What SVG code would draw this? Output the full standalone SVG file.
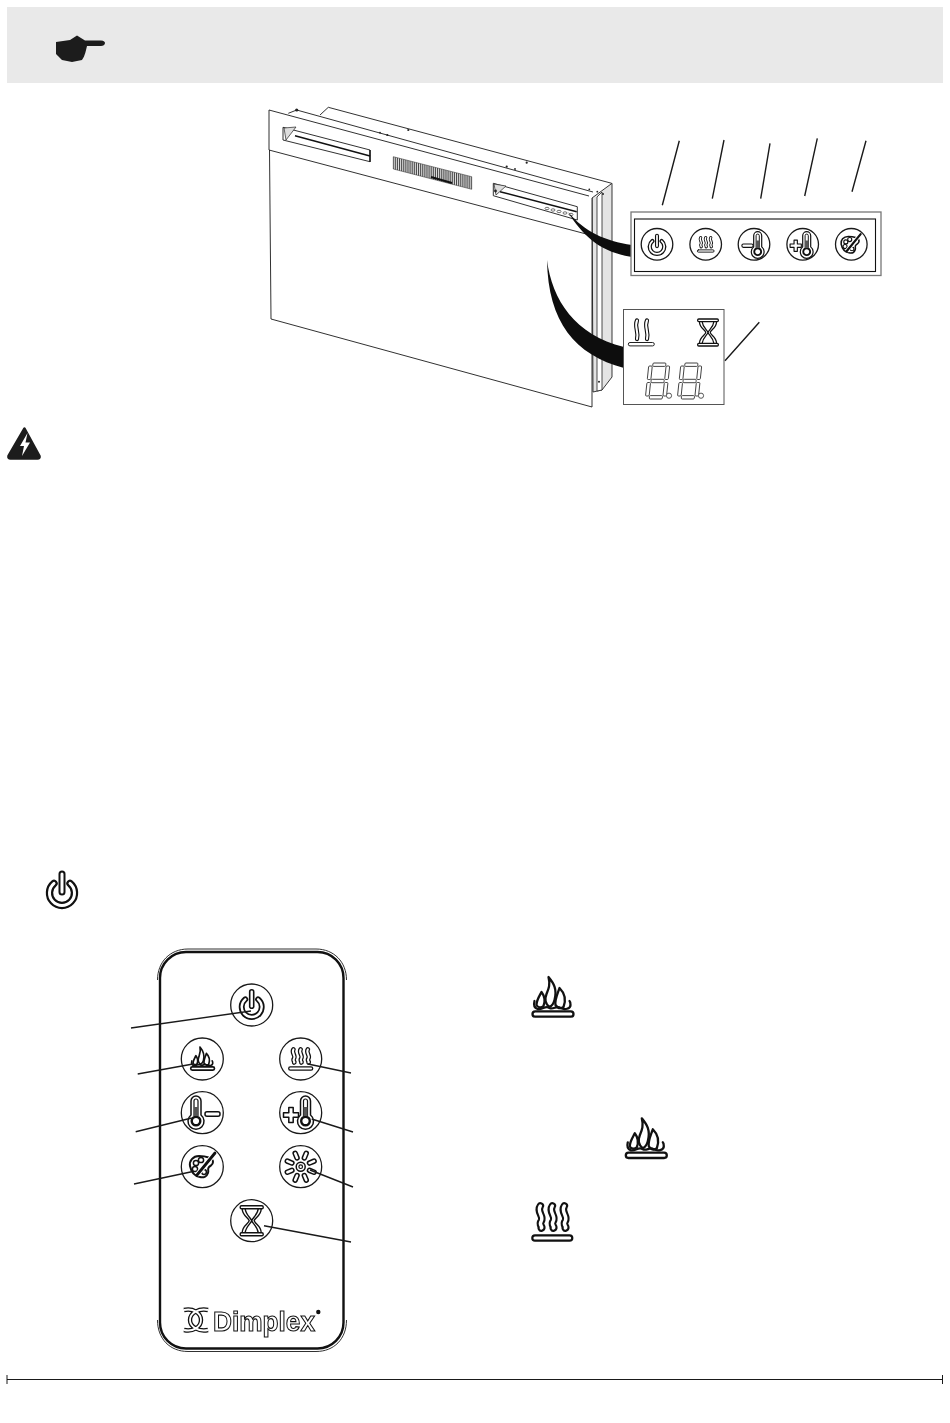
<svg xmlns="http://www.w3.org/2000/svg" width="950" height="1423" viewBox="0 0 950 1423">
<style>
.l{fill:none;stroke:#1a1a1a;stroke-width:.9}
.c{fill:none;stroke:#1a1a1a;stroke-width:1.4}
.btn{fill:#fff;stroke:#1a1a1a;stroke-width:1.3}
.i{fill:none;stroke:#111;stroke-linejoin:round;stroke-linecap:round}
.b{fill:none;stroke:#111;stroke-linecap:round}
.w{fill:none;stroke:#fff;stroke-linecap:round}
.seg{fill:#fff;stroke:#333;stroke-width:.9}
</style>
<defs>
<filter id="gray" x="-5%" y="-20%" width="110%" height="140%" color-interpolation-filters="sRGB"><feColorMatrix type="saturate" values="0"/></filter>
<g id="flame" class="i">
<rect x="-20" y="-2.700" width="41" height="5.400" rx="2.700"/>
<path d="M-4,-37C1,-31 5,-25 2,-14C1,-10 -1,-8 -3,-7C-7,-10 -8,-15 -6,-20C-4,-25 -2,-29 -4,-37Z"/>
<path d="M7,-26C12,-21 14,-15 11,-7C8,-5 5,-6 3,-9C2,-14 5,-20 7,-26Z"/>
<path d="M-11,-22C-8,-18 -7,-13 -9,-8C-11,-6 -15,-6 -16,-9C-16,-14 -13,-18 -11,-22Z"/>
<path d="M-18,-13C-19,-9 -18,-6 -15,-5C-10,-4 -7,-9 -3,-6C1,-4 4,-9 8,-6C12,-4 18,-5 18,-9C18,-11 18,-12 17,-13"/>
</g>
<g id="heat">
<rect x="-20" y="-2.700" width="40" height="5.400" rx="2.700" class="i" stroke-width="2.200"/>
<g class="b" stroke-width="7.600"><path d="M-12,-32C-16,-26 -8,-22 -11,-17C-14,-13 -9,-11 -11,-10"/><path d="M0,-32C-4,-26 4,-22 1,-17C-2,-13 3,-11 1,-10"/><path d="M12,-32C8,-26 16,-22 13,-17C10,-13 15,-11 13,-10"/></g>
<g class="w" stroke-width="3.400"><path d="M-12,-32C-16,-26 -8,-22 -11,-17C-14,-13 -9,-11 -11,-10"/><path d="M0,-32C-4,-26 4,-22 1,-17C-2,-13 3,-11 1,-10"/><path d="M12,-32C8,-26 16,-22 13,-17C10,-13 15,-11 13,-10"/></g>
</g>
<g id="power">
<path class="b" stroke-width="7.400" d="M-8,-9.600A12.500,12.500 0 1 0 8,-9.600"/>
<path class="w" stroke-width="3" d="M-8,-9.600A12.500,12.500 0 1 0 8,-9.600"/>
<path class="b" stroke-width="7" d="M0,-19V-1"/>
<path class="w" stroke-width="3" d="M0,-19V-1"/>
</g>
<g id="thermo">
<path d="M-5,-6V-20A5,5 0 0 1 5,-20V-6A8,8 0 1 1 -5,-6Z" fill="#fff" stroke="#111" stroke-width="1.500"/>
<circle r="4.300" fill="#fff" stroke="#111" stroke-width="2.400"/>
<path d="M-2,-5V-20A2,2 0 0 1 2,-20V-5" stroke="#111" stroke-width="1.200" fill="none"/>
<path d="M-2,-5H2V-14H-2Z" fill="#555"/>
</g>
<rect id="minus" x="-7.500" y="-2.200" width="15" height="4.400" rx="2" fill="#fff" stroke="#111" stroke-width="1.500"/>
<path id="plus" d="M-2.200,-7.500H2.200V-2.200H7.500V2.200H2.200V7.500H-2.200V2.200H-7.500V-2.200H-2.200Z" fill="#fff" stroke="#111" stroke-width="1.500" stroke-linejoin="round"/>
<g id="palette">
<path d="M-3,-11C-9,-11 -13,-6 -12,-1C-11,4 -8,9 -2,10C2,11 5,9 6,6C7,3 5,2 7,0C9,-2 11,-2 11,-5C11,-9 4,-11 -3,-11Z" fill="#fff" stroke="#111" stroke-width="2"/>
<circle cx="-6" cy="-4" r="2.600" fill="none" stroke="#111" stroke-width="1.500"/>
<circle cx="-1" cy="-7" r="2.600" fill="none" stroke="#111" stroke-width="1.500"/>
<circle cx="-7" cy="2" r="2.600" fill="none" stroke="#111" stroke-width="1.500"/>
<circle cx="2" cy="5" r="2.400" fill="none" stroke="#111" stroke-width="1.500"/>
<path d="M-5,8L13,-14" stroke="#fff" stroke-width="5"/>
<path d="M-5,8L13,-14" stroke="#111" stroke-width="2.800" stroke-linecap="round"/>
</g>
<rect id="petal" x="-2" y="-16.500" width="4" height="9" rx="2" fill="#fff" stroke="#111" stroke-width="1.500"/>
<g id="hour" fill="none" stroke="#111" stroke-linejoin="round" stroke-width="1.400">
<rect x="-11.500" y="-15" width="23" height="3" rx="1.200"/>
<rect x="-11.500" y="12" width="23" height="3" rx="1.200"/>
<path d="M-9.500,-12C-9.500,-5 -3,-3 -2.500,0C-3,3 -9.500,5 -9.500,12M9.500,-12C9.500,-5 3,-3 2.500,0C3,3 9.500,5 9.500,12"/>
<path d="M-6.500,-12C-6,-6 -1,-3 0,0C1,3 6,6 6.500,12M6.500,-12C6,-6 1,-3 0,0C-1,3 -6,6 -6.500,12"/>
</g>
<g id="digit" transform="skewX(-6)">
<rect class="seg" x="4" y="0" width="13" height="3.400" rx="1"/>
<rect class="seg" x="4" y="16.300" width="13" height="3.400" rx="1"/>
<rect class="seg" x="4" y="32.600" width="13" height="3.400" rx="1"/>
<rect class="seg" x="0" y="3" width="3.600" height="13.500" rx="1"/>
<rect class="seg" x="17.400" y="3" width="3.600" height="13.500" rx="1"/>
<rect class="seg" x="0" y="19.500" width="3.600" height="13.500" rx="1"/>
<rect class="seg" x="17.400" y="19.500" width="3.600" height="13.500" rx="1"/>
</g>
<pattern id="grille" width="1.900" height="4" patternUnits="userSpaceOnUse"><rect width="1.900" height="4" fill="#fff"/><rect width="1.100" height="4" fill="#444"/></pattern>
</defs>

<g id="header">
<rect x="7" y="7" width="936" height="76" fill="#e9e9e9"/>
<path id="hand" fill="#1c1c1c" d="M56,42L70,40L77,35.500L85,40.500H101C104,40.500 105,42 105,43C105,45 103,46 101,46H87C86,50 85,56 82,60L72,62L62,60L56,54Z"/>
</g>

<g id="fireplace">
<path class="l" d="M320,115L328.300,107.300L611.700,183.300"/>
<path class="l" d="M288.300,113.300L296.700,110L593,192"/>
<polygon points="592,198 612,183.300 612,377 602,390 593,392" fill="#e4e4e4" stroke="#222" stroke-width=".9"/>
<polygon points="597,197 602,192 602,390 597,391" fill="#fff" stroke="#222" stroke-width=".8"/>
<polygon points="269,110 590,196 592,198 592,407 271,319" fill="#fff"/>
<path class="l" d="M269,110L589,196M269,110V150L590,235M269.500,150L271,319L592,407V198"/>
<path class="l" d="M283,127.300L370,150V161.700L283,140Z"/>
<path d="M284,128L296,127L286,140Z" fill="#ddd" stroke="#222" stroke-width=".7"/>
<path d="M295,135.700L370,156" stroke="#111" stroke-width="1.600"/>
<path d="M370,150V162" stroke="#111" stroke-width="1.400"/>
<polygon points="393.300,156.700 471.700,176.700 471.700,189.300 393.300,169" fill="url(#grille)" stroke="#222" stroke-width=".5"/>
<path d="M431,177L452,183" stroke="#111" stroke-width="2"/>
<path class="l" d="M493.300,183.300L577.300,206.700V220L493.300,195.700Z"/>
<path d="M494,184L506,186L496,195Z" fill="#ddd" stroke="#222" stroke-width=".7"/>
<path d="M500,191.700L576.700,211.700" stroke="#111" stroke-width="1.500"/>
<g fill="#fff" stroke="#333" stroke-width=".7"><ellipse cx="547" cy="208.500" rx="2" ry="1.200"/><ellipse cx="553" cy="210" rx="2" ry="1.200"/><ellipse cx="559" cy="211.500" rx="2" ry="1.200"/><ellipse cx="565" cy="213" rx="2" ry="1.200"/><ellipse cx="571" cy="214.500" rx="2" ry="1.200"/></g>
<g fill="#222"><circle cx="296.700" cy="110" r="1.600"/><circle cx="408.300" cy="130" r="1.100"/><circle cx="380" cy="132.700" r=".9"/><circle cx="387.300" cy="135" r="1.100"/><circle cx="506.700" cy="166.700" r="1.100"/><circle cx="515" cy="169" r=".9"/><circle cx="526.700" cy="162.700" r="1.100"/><circle cx="589.300" cy="189.300" r=".9"/><circle cx="597.300" cy="191.700" r=".9"/><circle cx="603" cy="194" r="1"/><circle cx="599" cy="381.700" r="1"/><circle cx="495.500" cy="191" r="1.400"/></g>
</g>

<g id="swooshes" fill="#0d0d0d">
<path d="M568,212C585,232 605,241 632,245L632,257C600,252 583,236 568,212Z"/>
<path d="M547,260C552,300 575,335 624,347L624,368C575,355 548,322 547,260Z"/>
</g>

<g id="control-panel">
<rect x="631" y="212" width="250" height="63.500" fill="#fff" stroke="#777" stroke-width="1.300"/>
<rect x="634.500" y="219" width="241" height="52.500" fill="#fff" stroke="#111" stroke-width="1.100"/>
<circle class="btn" cx="657" cy="244.300" r="15.800"/><use href="#power" transform="translate(657,246.700) scale(.58)"/>
<circle class="btn" cx="705.700" cy="244.300" r="15.800"/><use href="#heat" transform="translate(705.700,251) scale(.42)"/>
<circle class="btn" cx="754" cy="244.300" r="15.800"/><use href="#thermo" transform="translate(757.700,251.700) scale(.8)"/><use href="#minus" transform="translate(747.500,245.700) scale(.75)"/>
<circle class="btn" cx="802.700" cy="244.300" r="15.800"/><use href="#thermo" transform="translate(806.700,251.700) scale(.8)"/><use href="#plus" transform="translate(795.700,245.700) scale(.75)"/>
<circle class="btn" cx="851.300" cy="244.300" r="15.800"/><use href="#palette" transform="translate(850.500,245) scale(.78)"/>
</g>

<g id="display">
<rect x="623.500" y="309.500" width="100.500" height="95" fill="#fff" stroke="#555" stroke-width="1"/>
<rect x="628.300" y="342.500" width="26" height="3.400" rx="1.700" fill="none" stroke="#222" stroke-width="1"/>
<g class="b" stroke-width="4.200"><path d="M637,320.500C634,327 639,331 637,339"/><path d="M647,320.500C644,327 649,331 647,339"/></g>
<g class="w" stroke-width="2"><path d="M637,320.500C634,327 639,331 637,339"/><path d="M647,320.500C644,327 649,331 647,339"/></g>
<use href="#hour" transform="translate(708,332.500) scale(.9)"/>
<use href="#digit" transform="translate(649,363)"/>
<use href="#digit" transform="translate(681,363)"/>
<circle cx="669" cy="395.700" r="2.600" fill="#fff" stroke="#444" stroke-width=".9"/>
<circle cx="701" cy="395.700" r="2.600" fill="#fff" stroke="#444" stroke-width=".9"/>
</g>

<g id="warning">
<path d="M24.500,428.500L39.500,456C40,457.500 39,458.500 37.500,458.500H10.500C9,458.500 8,457.500 8.500,456Z" fill="#1c1c1c" stroke="#1c1c1c" stroke-width="2.500" stroke-linejoin="round"/>
<path d="M27.500,433L20,446H24L22,456L30,442.500H25.500Z" fill="#fff"/>
</g>

<g id="power-icon"><use href="#power" transform="translate(62,893)"/></g>

<g id="remote">
<rect x="160" y="952" width="183.500" height="396.500" rx="26" fill="#fff" stroke="#111" stroke-width="2.400"/>
<path class="l" d="M157.500,980C157.500,962 170,949 188,949H316C334,949 346.500,962 346.500,980M157.500,1320C157.500,1339 170,1351.500 188,1351.500H316C334,1351.500 346.500,1339 346.500,1320"/>
<g id="btn-power"><circle class="btn" cx="251.700" cy="1005" r="21"/><use href="#power" transform="translate(251.700,1007) scale(.8)"/></g>
<g id="btn-flame"><circle class="btn" cx="202.300" cy="1059" r="21"/><use href="#flame" stroke-width="2.900" transform="translate(202.300,1068.500) scale(.58)"/></g>
<g id="btn-heat"><circle class="btn" cx="300.700" cy="1059" r="21"/><use href="#heat" transform="translate(300.700,1068.500) scale(.6)"/></g>
<g id="btn-minus"><circle class="btn" cx="202.300" cy="1112.700" r="21"/><use href="#thermo" transform="translate(196,1121)"/><use href="#minus" transform="translate(212.500,1114)"/></g>
<g id="btn-plus"><circle class="btn" cx="300.700" cy="1112.700" r="21"/><use href="#thermo" transform="translate(305.500,1121)"/><use href="#plus" transform="translate(291,1115)"/></g>
<g id="btn-palette"><circle class="btn" cx="202.300" cy="1166.700" r="21"/><use href="#palette" transform="translate(202,1167)"/></g>
<g id="btn-sun"><circle class="btn" cx="300.700" cy="1166.700" r="21"/>
<g transform="translate(300.700,1166.700)"><use href="#petal" transform="rotate(22.500)"/><use href="#petal" transform="rotate(67.500)"/><use href="#petal" transform="rotate(112.500)"/><use href="#petal" transform="rotate(157.500)"/><use href="#petal" transform="rotate(202.500)"/><use href="#petal" transform="rotate(247.500)"/><use href="#petal" transform="rotate(292.500)"/><use href="#petal" transform="rotate(337.500)"/><circle r="4.500" fill="#fff" stroke="#111" stroke-width="1.500"/><circle r="1.800" fill="none" stroke="#111" stroke-width="1.200"/></g></g>
<g id="btn-timer"><circle class="btn" cx="251.700" cy="1220.700" r="21"/><use href="#hour" transform="translate(251.700,1220.700)"/></g>
<g id="logo">
<path d="M184,1310C193,1308 201,1313 201,1320C201,1327 193,1332 184,1330M208,1310C199,1308 190,1313 190,1320C190,1327 199,1332 208,1330" fill="none" stroke="#111" stroke-width="4.400"/>
<path d="M184,1310C193,1308 201,1313 201,1320C201,1327 193,1332 184,1330M208,1310C199,1308 190,1313 190,1320C190,1327 199,1332 208,1330" fill="none" stroke="#fff" stroke-width="1.800"/>
<g filter="url(#gray)"><rect x="211" y="1304" width="106" height="34" fill="#fff"/><text x="213" y="1330.500" font-family="'Liberation Sans',Arial,sans-serif" font-size="28" font-weight="700" fill="#fff" stroke="#111" stroke-width="1.100" textLength="102" lengthAdjust="spacingAndGlyphs">Dimplex</text></g>
<circle cx="318.300" cy="1312" r="2.200" fill="#111"/>
</g>
</g>

<g id="connectors">
<path class="c" d="M679.300,140.700L662.300,205.300M724,140L712.300,198.700M770,143.300L760.700,198.700M817.300,138.300L804.700,196M866,140.700L852,191.700M725,360.700L759.300,322.300"/>
<path class="c" d="M131,1028L251,1011M137.700,1074L193,1064M135.700,1131.700L191.700,1118M134,1184L191.700,1171.700M308,1064L351,1073M311.700,1119L353,1132M310,1170L353,1187M264,1225.700L351,1242"/>
</g>

<g id="icon-flame-1"><use href="#flame" stroke-width="2.300" transform="translate(552.500,1014)"/></g>
<g id="icon-flame-2"><use href="#flame" stroke-width="2.300" transform="translate(645.800,1155.300)"/></g>
<g id="icon-heat"><use href="#heat" transform="translate(552.300,1238)"/></g>

<g id="footer" stroke="#1a1a1a" stroke-width="1"><path d="M7,1379.500H943M7,1375V1384M942.500,1375V1384" fill="none"/></g>
</svg>
